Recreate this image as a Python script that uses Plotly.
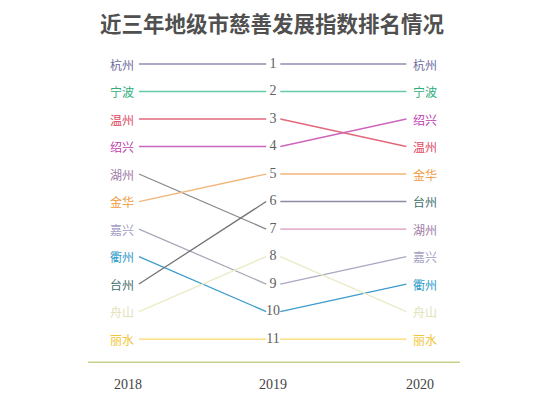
import plotly.graph_objects as go

title = "近三年地级市慈善发展指数排名情况"
years = ["2018", "2019", "2020"]
cities = ["杭州", "宁波", "温州", "绍兴", "湖州", "金华", "嘉兴", "衢州", "台州", "舟山", "丽水"]
rank2018 = [1, 2, 3, 4, 5, 6, 7, 8, 9, 10, 11]
rank2019 = [1, 2, 3, 4, 7, 5, 9, 10, 6, 8, 11]
rank2020 = [1, 2, 4, 3, 7, 5, 8, 9, 6, 10, 11]
label_colors = ["#6c6c9c", "#2fae7c", "#e0485e", "#c03cae", "#a07aa6", "#f09a40",
                "#a6a0c6", "#2a9acc", "#3e6e6a", "#e2e2b8", "#f2c63c"]
left_line_colors = ["#8e8eb2", "#66cba6", "#e2687c", "#cc66bc", "#8a8a8a", "#f2b67a",
                    "#a8a8b8", "#3c9ccc", "#747478", "#ebebc6", "#f8d86a"]
right_line_colors = ["#8e8eb2", "#66cba6", "#e2687c", "#cc66bc", "#d898bc", "#f2b67a",
                     "#a8a8c2", "#3c9ccc", "#8a8aa2", "#ebebc6", "#f8d86a"]

fig = go.Figure()

# x positions: 0 = 2018 column, 1 = 2019 column, 2 = 2020 column
L0, L1 = 0.115, 0.955
R0, R1 = 1.048, 1.880
for i, c in enumerate(cities):
    fig.add_trace(go.Scatter(x=[L0, L1], y=[rank2018[i], rank2019[i]], mode="lines",
                             line=dict(color=left_line_colors[i], width=1.3),
                             hoverinfo="skip", showlegend=False))
    fig.add_trace(go.Scatter(x=[R0, R1], y=[rank2019[i], rank2020[i]], mode="lines",
                             line=dict(color=right_line_colors[i], width=1.3),
                             hoverinfo="skip", showlegend=False))

cjk = "Noto Sans CJK SC"
for i, c in enumerate(cities):
    fig.add_annotation(x=0, y=rank2018[i], text=c, showarrow=False,
                       font=dict(family=cjk, size=12, color=label_colors[i]))
    fig.add_annotation(x=2, y=rank2020[i], text=c, showarrow=False,
                       font=dict(family=cjk, size=12, color=label_colors[i]))

ranks = sorted(rank2019)
fig.add_trace(go.Scatter(x=[1] * len(ranks), y=ranks, mode="text",
                         text=[str(r) for r in ranks],
                         textfont=dict(family="Liberation Serif", size=14, color="#606060"),
                         hoverinfo="skip", showlegend=False))

# baseline
fig.add_shape(type="line", x0=-0.221, x1=2.234, y0=11.84, y1=11.84,
              line=dict(color="#c9cf8c", width=1.5))

for j, yr in enumerate(years):
    fig.add_annotation(x=[0.04, 1, 1.97][j], y=12.64, text=yr, showarrow=False,
                       font=dict(family="Liberation Serif", size=14, color="#444444"))

fig.add_annotation(x=0.496, y=1 - 22 / 399, xref="paper", yref="paper", text="<b>" + title + "</b>",
                   xanchor="center", yanchor="middle",
                   showarrow=False, font=dict(family=cjk, size=21.5, color="#505050"))

fig.update_layout(
    width=550, height=399,
    margin=dict(l=0, r=0, t=0, b=0),
    paper_bgcolor="white", plot_bgcolor="white",
    xaxis=dict(range=[-0.802, 2.828], visible=False, fixedrange=True),
    yaxis=dict(range=[13.18, -1.327], visible=False, fixedrange=True),
    showlegend=False,
)

fig.write_html("out.html", config={"displayModeBar": False},
               post_script="document.body.style.margin='0';")
